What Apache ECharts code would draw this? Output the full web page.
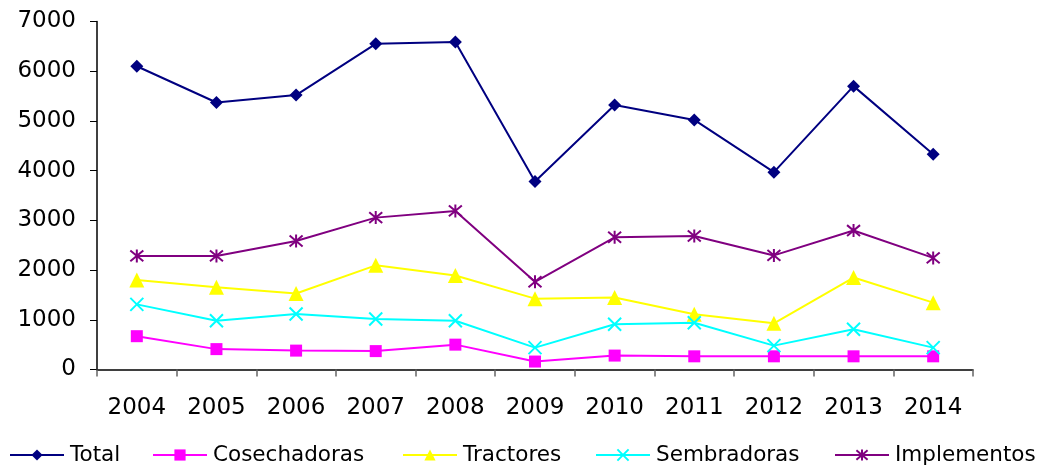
<!DOCTYPE html>
<html><head><meta charset="utf-8">
<script src="https://cdn.jsdelivr.net/npm/echarts@6/dist/echarts.min.js"></script>
<style>html,body{margin:0;padding:0;background:#fff}#c{width:1037px;height:466px}</style>
</head><body><div id="c"></div>
<script>
const years = ['2004','2005','2006','2007','2008','2009','2010','2011','2012','2013','2014'];
const total = [6100,5370,5520,6550,6590,3780,5320,5020,3970,5700,4330];
const cosechadoras = [670,410,380,370,500,160,280,265,265,265,265];
const tractores = [1800,1655,1530,2095,1890,1425,1450,1110,930,1850,1345];
const sembradoras = [1310,980,1115,1015,980,440,910,940,480,810,440];
const implementos = [2285,2285,2585,3055,3190,1765,2660,2685,2295,2795,2245];
const seriesNames = ['Total','Cosechadoras','Tractores','Sembradoras','Implementos'];
const yTicks = {min:0, max:7000, interval:1000};

const font = 'DejaVu Sans, sans-serif';
const xSym = 'path://M0,0L10,10M10,0L0,10';
const starSym = 'path://M0,0L10,10M10,0L0,10M5,-1L5,11';
const legendLeft = [9, 152, 402, 595, 834];
function s(name, data, color, symbol, size, stroke){
  return {name, type:'line', data, symbol, symbolSize:size,
    lineStyle:{color, width:2}, color,
    itemStyle: stroke ? {color:'none', borderColor:color, borderWidth:2} : {color, borderWidth:0},
    animation:false};
}
const chart = echarts.init(document.getElementById('c'));
chart.setOption({
  animation:false,
  grid:{left:97, right:64, top:21.5, bottom:96.5},
  legend: seriesNames.map((n,i)=>({top:444, left:legendLeft[i], padding:0, itemWidth:54, itemHeight:14,
    textStyle:{fontFamily:font, fontSize:21.5, color:'#000', padding:[0,0,0,1]}, data:[n]})),
  xAxis:{type:'category', data:years, boundaryGap:true,
    axisLine:{lineStyle:{color:'#000', width:1.5}},
    axisTick:{show:true, length:7, lineStyle:{color:'#666', width:1.5}},
    axisLabel:{fontFamily:font, fontSize:23, color:'#000', margin:27}},
  yAxis:{type:'value', min:yTicks.min, max:yTicks.max, interval:yTicks.interval,
    axisLine:{show:true, lineStyle:{color:'#000', width:1.5}},
    axisTick:{show:true, length:7, lineStyle:{color:'#000'}},
    splitLine:{show:false},
    axisLabel:{fontFamily:font, fontSize:23, color:'#000', margin:21, formatter: v => String(v)}},
  series:[
    s(seriesNames[0], total, '#000080', 'diamond', 13),
    s(seriesNames[1], cosechadoras, '#FF00FF', 'rect', 12),
    s(seriesNames[2], tractores, '#FFFF00', 'triangle', 15),
    s(seriesNames[3], sembradoras, '#00FFFF', xSym, 13, true),
    s(seriesNames[4], implementos, '#800080', starSym, 13, true)
  ]
});
</script></body></html>
